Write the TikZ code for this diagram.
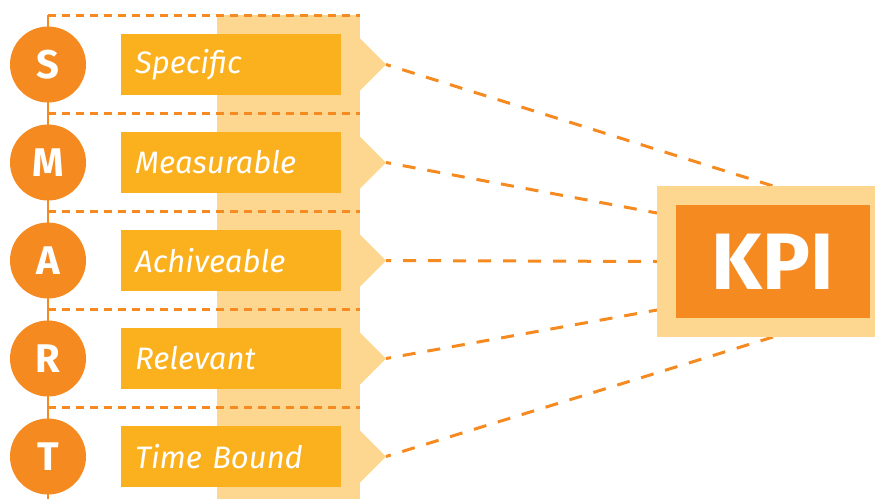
\documentclass[tikz,border=0pt]{standalone}
\usepackage{fontspec}
\setmainfont{Fira Sans}
\usetikzlibrary{calc}
\definecolor{smartorange}{HTML}{F58A21}
\definecolor{smartyellow}{HTML}{FBB01E}
\definecolor{smartlight}{HTML}{FDD78F}
\tikzset{
    letter/.style={circle,fill=smartorange,minimum size=76pt,inner sep=0pt,text=white,
        font=\fontsize{40}{40}\selectfont\bfseries},
    criterion/.style={fill=smartyellow,anchor=west,minimum height=61pt,text width=192pt,
        inner xsep=14pt,inner ysep=0pt,align=left,text=white,
        font=\fontsize{31}{31}\selectfont\itshape},
    guide/.style={smartorange,line width=3pt,dash pattern=on 8pt off 6pt},
    link/.style={smartorange,line width=3pt,dash pattern=on 13pt off 12pt,dash phase=8pt},
}
\begin{document}
\begin{tikzpicture}[x=1pt,y=-1pt]
    \useasboundingbox (0,0) rectangle (875,499);

    % light band behind the boxes
    \fill [smartlight] (217,15) rectangle (360,499);

    % spine
    \draw [smartorange,line width=2.5pt] (48,15) -- (48,499);

    \foreach \y in {15,113,211,309,407}{%
        \draw [guide] (48,\y) -- (360,\y);}

    \foreach \l/\t/\ex/\ey [count=\i] in {S/Specific/773/186,M/Measurable/657/213,
            A/Achiveable/657/261.5,R/Relevant/657/310,T/Time Bound/773/337}{%
        \pgfmathsetmacro{\y}{64.5+98*(\i-1)}
        \fill [smartlight] (360,\y-26) -- (386,\y) -- (360,\y+26) -- cycle;
        \coordinate (tip-\i) at (386,\y);
        \coordinate (end-\i) at (\ex,\ey);
        \node [letter] (letter-\i) at (48,\y) {\l};
        \node [criterion] (crit-\i) at (121,\y) {\t};
        \draw [link] (tip-\i) -- (end-\i);}

    % KPI box
    \node [fill=smartlight,minimum width=218pt,minimum height=151pt,inner sep=0pt] (kpi) at (766,261.5) {};
    \node [fill=smartorange,minimum width=194pt,minimum height=113pt,inner sep=0pt,text=white,
        font=\fontsize{80}{80}\selectfont\bfseries] (kpi-in) at (773,261.5) {KPI};
\end{tikzpicture}
\end{document}
